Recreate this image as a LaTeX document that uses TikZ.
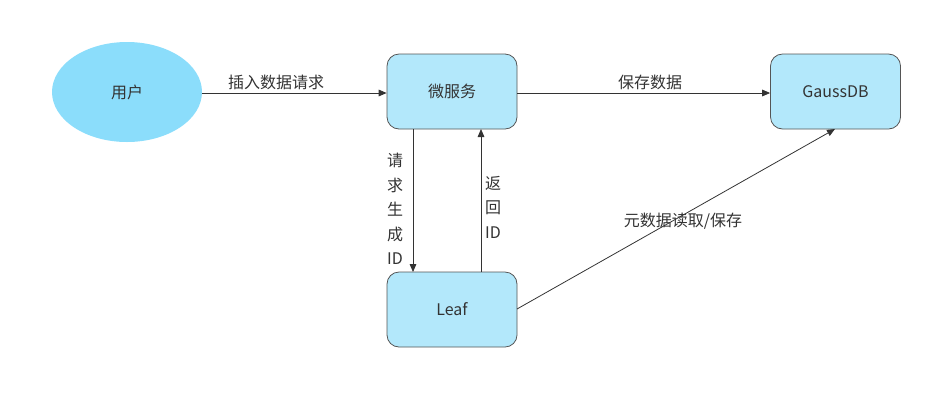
\documentclass[tikz,border=0pt]{standalone}
\usepackage{fontspec}
\setmainfont{Noto Sans CJK SC}
\usetikzlibrary{arrows.meta,shapes.geometric}
\definecolor{ellfill}{HTML}{8BDDFB}
\definecolor{boxfill}{HTML}{B3E8FB}
\definecolor{boxline}{HTML}{555555}
\definecolor{txt}{HTML}{333333}
\begin{document}
\begin{tikzpicture}[x=0.75pt,y=-0.75pt,
  every node/.style={font=\fontsize{12}{18.4}\selectfont, text=txt},
  ell/.style={ellipse, fill=ellfill, draw=none, minimum width=112.5pt, minimum height=75pt, inner sep=0pt},
  rbox/.style={rectangle, rounded corners=9pt, fill=boxfill, draw=boxline, line width=0.6pt, minimum width=97.5pt, minimum height=56.25pt, inner sep=0pt},
  conn/.style={draw=txt, line width=0.6pt, -{Triangle[length=6pt,width=5pt]}},
  lbl/.style={inner sep=1pt, align=center}
]
\useasboundingbox (0,0) rectangle (948,401);
\node[ell]  (user) at (127,92) {用户};
\node[rbox] (ms)   at (452,91.5) {微服务};
\node[rbox] (db)   at (835.5,91.5) {GaussDB};
\node[rbox] (leaf) at (452,309.5) {Leaf};
\coordinate (msd) at (413,129);
\coordinate (leafd) at (413,272);
\coordinate (msu) at (481,129);
\coordinate (leafu) at (481,272);
\coordinate (dbb) at (835,129);
\coordinate (leafr) at (517,309);
\draw[conn] (user.east |- 0,93) -- (ms.west |- 0,93);
\draw[conn] (ms.east |- 0,93) -- (db.west |- 0,93);
\draw[conn] (msd) -- (leafd);
\draw[conn] (leafu) -- (msu);
\draw[conn] (leafr) -- (dbb);
\node[lbl] (l1) at (276,82) {插入数据请求};
\node[lbl] (l2) at (650,82) {保存数据};
\node[lbl] (l3) at (395,209) {请\\求\\生\\成\\ID};
\node[lbl] (l4) at (493,207) {返\\回\\ID};
\node[lbl] (l5) at (683,221) {元数据读取/保存};
\end{tikzpicture}
\end{document}
